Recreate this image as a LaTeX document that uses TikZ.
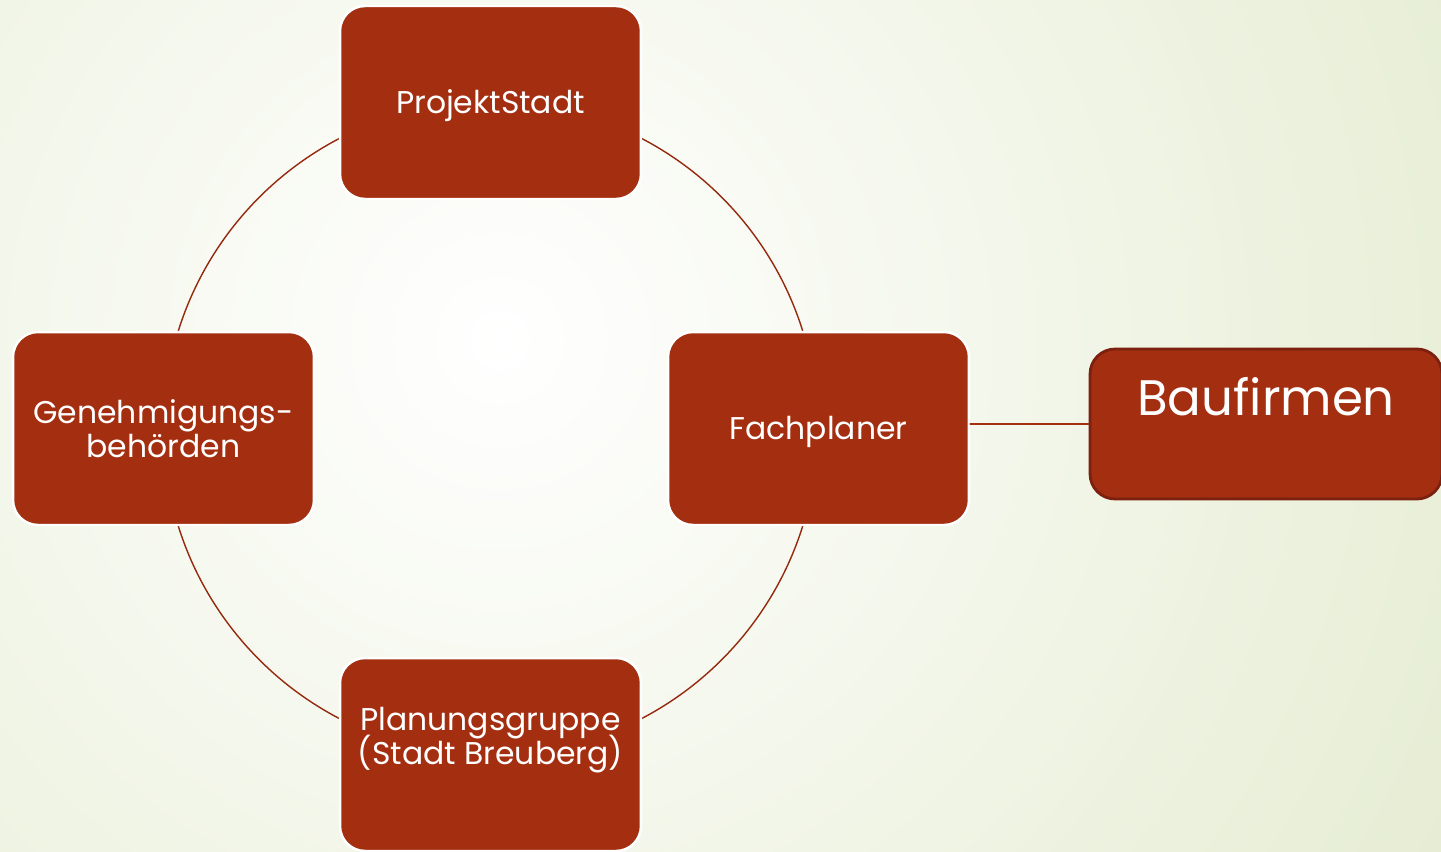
\documentclass[tikz,border=0pt]{standalone}
\usepackage{fontspec}
\setmainfont{Poppins}
\usetikzlibrary{positioning}
\definecolor{boxred}{HTML}{A42E10}
\definecolor{darkred}{HTML}{7C2010}
\definecolor{bggreen}{HTML}{DCE6C2}
\newcommand{\rolefont}{\fontsize{17.9}{19.3}\selectfont\lineskiplimit-50pt\relax}
\tikzset{
  rolebox/.style={fill=boxred,draw=white,line width=1.4pt,rounded corners=0.5cm,
    minimum width=6.02cm,minimum height=3.86cm,text=white,align=center,
    font=\rolefont},
  firmbox/.style={fill=boxred,draw=darkred,line width=1.6pt,rounded corners=0.5cm,
    minimum width=7.04cm,minimum height=3cm,text=white,align=center,
    font=\fontsize{28.4}{30}\selectfont}
}
\begin{document}
\begin{tikzpicture}[x=0.02cm,y=-0.02cm,line join=round,line cap=round]
 \useasboundingbox (0,0) rectangle (1441,852);
 \begin{scope}
  \clip (0,0) rectangle (1441,852);
  \shade[inner color=white,outer color=bggreen] (500,340) circle (1500);
 \end{scope}
 \draw[boxred!90!black,line width=0.8pt] (490.5,428.5) circle (327);
 \node[rolebox,text height=0.59cm] (projekt) at (490.5,102.5) {ProjektStadt};
 \node[rolebox] (genehm) at (163.5,428.5) {Genehmigungs-\\behörden};
 \node[rolebox,text height=0.59cm] (fach) at (818.5,428.5) {Fachplaner};
 \node[rolebox,text depth=0.75cm] (planung) at (490.5,754.5) {Planungsgruppe\\(Stadt Breuberg)};
 \node[firmbox,text depth=1.12cm] (baufirmen) at (1266,424) {Baufirmen};
 \draw[boxred,line width=0.9pt] (baufirmen.west -| fach.east) -- (baufirmen.west);
\end{tikzpicture}
\end{document}
